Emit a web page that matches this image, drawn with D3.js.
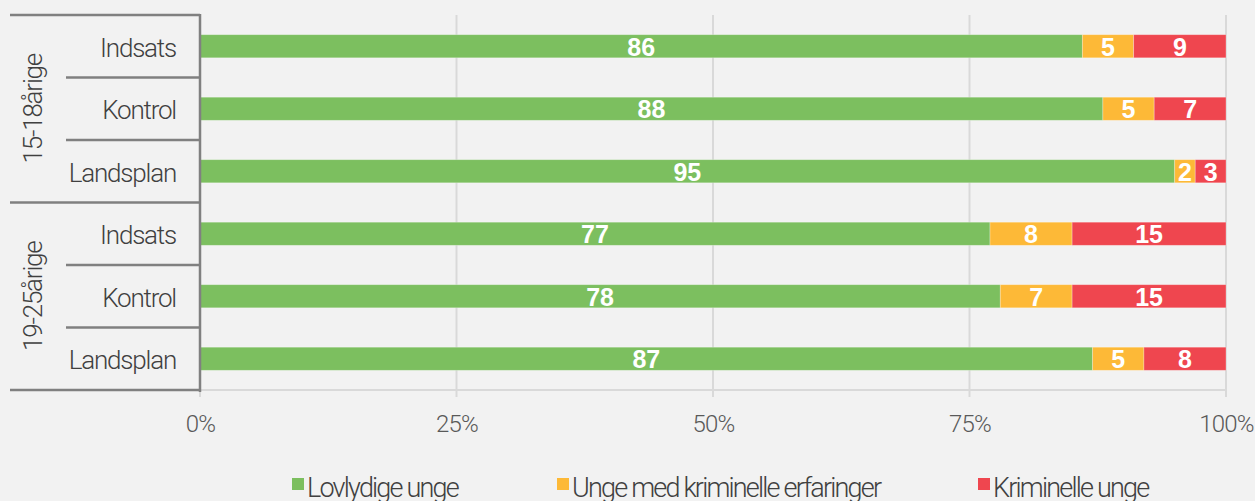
<!DOCTYPE html>
<html><head><meta charset="utf-8">
<script src="https://cdn.jsdelivr.net/npm/d3@7"></script>
<style>body{margin:0;background:#f2f2f2;}svg{display:block;}</style>
</head><body>
<script>
const groups = ["15-18årige", "19-25årige"];
const categories = ["Indsats", "Kontrol", "Landsplan", "Indsats", "Kontrol", "Landsplan"];
const rowGroup = [0, 0, 0, 1, 1, 1];
const seriesNames = ["Lovlydige unge", "Unge med kriminelle erfaringer", "Kriminelle unge"];
const lovlydige = [86, 88, 95, 77, 78, 87];
const erfaringer = [5, 5, 2, 8, 7, 5];
const kriminelle = [9, 7, 3, 15, 15, 8];
const xTicks = [0, 25, 50, 75, 100];
const colors = ["#7cbf5f", "#fdb937", "#ef464f"];

const W = 1255, H = 501;
const svg = d3.select("body").append("svg").attr("width", W).attr("height", H);
svg.append("rect").attr("width", W).attr("height", H).attr("fill", "#f2f2f2");

const x = d3.scaleLinear().domain([0, 100]).range([200, 1226]);
const y = d3.scaleBand().domain(d3.range(categories.length)).range([15, 390]).paddingInner(0.63).paddingOuter(0.315);

// gridlines
svg.append("g").selectAll("line").data(xTicks).join("line")
  .attr("x1", d => x(d)).attr("x2", d => x(d)).attr("y1", 15).attr("y2", 397)
  .attr("stroke", "#d9d9d9").attr("stroke-width", 2);
svg.append("line").attr("x1", 200).attr("x2", 1226).attr("y1", 390).attr("y2", 390)
  .attr("stroke", "#d9d9d9").attr("stroke-width", 2);

// x axis labels
const xAxis = d3.axisBottom(x).tickValues(xTicks).tickFormat(d => d + "%").tickSize(0).tickPadding(0);
const xg = svg.append("g").attr("transform", "translate(0,432)").call(xAxis);
xg.select(".domain").remove();
xg.selectAll("text").attr("fill", "#595959").attr("font-family", "Roboto").attr("font-weight", 300)
  .attr("font-size", 24).attr("letter-spacing", -0.8).attr("dy", 0).attr("y", 0);

// stacked data
const rows = categories.map((c, i) => ({i, v: [lovlydige[i], erfaringer[i], kriminelle[i]]}));
const stack = d3.stack().keys([0, 1, 2]).value((d, k) => d.v[k]);
const stacked = stack(rows);

const sg = svg.append("g").selectAll("g").data(stacked).join("g").attr("fill", (d, k) => colors[k]);
sg.selectAll("rect").data(d => d).join("rect")
  .attr("x", d => x(d[0])).attr("width", d => x(d[1]) - x(d[0]))
  .attr("y", d => y(d.data.i)).attr("height", y.bandwidth())
  .attr("stroke", "rgba(255,255,255,0.35)").attr("stroke-width", 0.8);
sg.selectAll("text").data(d => d).join("text")
  .attr("x", d => (x(d[0]) + x(d[1])) / 2).attr("y", d => y(d.data.i) + y.bandwidth() / 2)
  .attr("dy", "0.37em").attr("text-anchor", "middle")
  .attr("fill", "#fff").attr("font-family", "Liberation Sans, Arial").attr("font-weight", "bold")
  .attr("font-size", 25).text(d => d[1] - d[0]);

// left axis structure
const axisColor = "#808080";
const ag = svg.append("g").attr("stroke", axisColor).attr("stroke-width", 2.5);
ag.append("line").attr("x1", 200).attr("x2", 200).attr("y1", 14).attr("y2", 392);
const bandStep = y.step();
[15, 202.5, 390].forEach(v => ag.append("line").attr("x1", 10).attr("x2", 200).attr("y1", v).attr("y2", v));
[1, 2, 4, 5].forEach(i => {
  const yy = y(i) - y.paddingInner() * bandStep / 2;
  ag.append("line").attr("x1", 66).attr("x2", 200).attr("y1", yy).attr("y2", yy);
});

svg.append("g").selectAll("text").data(categories).join("text")
  .attr("x", 176).attr("y", (d, i) => y(i) + y.bandwidth() / 2).attr("dy", "0.4em")
  .attr("text-anchor", "end").attr("fill", "#404040").attr("font-family", "Roboto").attr("font-weight", 300)
  .attr("font-size", 26).attr("letter-spacing", -1.2).text(d => d);

svg.append("g").selectAll("text").data(groups).join("text")
  .attr("transform", (d, g) => {
    const idx = rowGroup.map((r, i) => r === g ? i : -1).filter(i => i >= 0);
    const cy = (y(idx[0]) + y(idx[idx.length - 1]) + y.bandwidth()) / 2;
    return `translate(42,${cy}) rotate(-90)`;
  })
  .attr("text-anchor", "middle").attr("fill", "#404040")
  .attr("font-family", "Roboto").attr("font-weight", 300).attr("font-size", 26).attr("letter-spacing", -1.2)
  .text(d => d);

// legend
const legX = [292, 557, 978];
const lg = svg.append("g").selectAll("g").data(seriesNames).join("g")
  .attr("transform", (d, i) => `translate(${legX[i]},478)`);
lg.append("rect").attr("width", 12).attr("height", 12).attr("fill", (d, i) => colors[i]);
lg.append("text").attr("x", 15).attr("y", 19)
  .attr("fill", "#404040").attr("font-family", "Roboto").attr("font-weight", 300)
  .attr("font-size", 27).attr("letter-spacing", -1.8).text(d => d);
</script>
</body></html>
